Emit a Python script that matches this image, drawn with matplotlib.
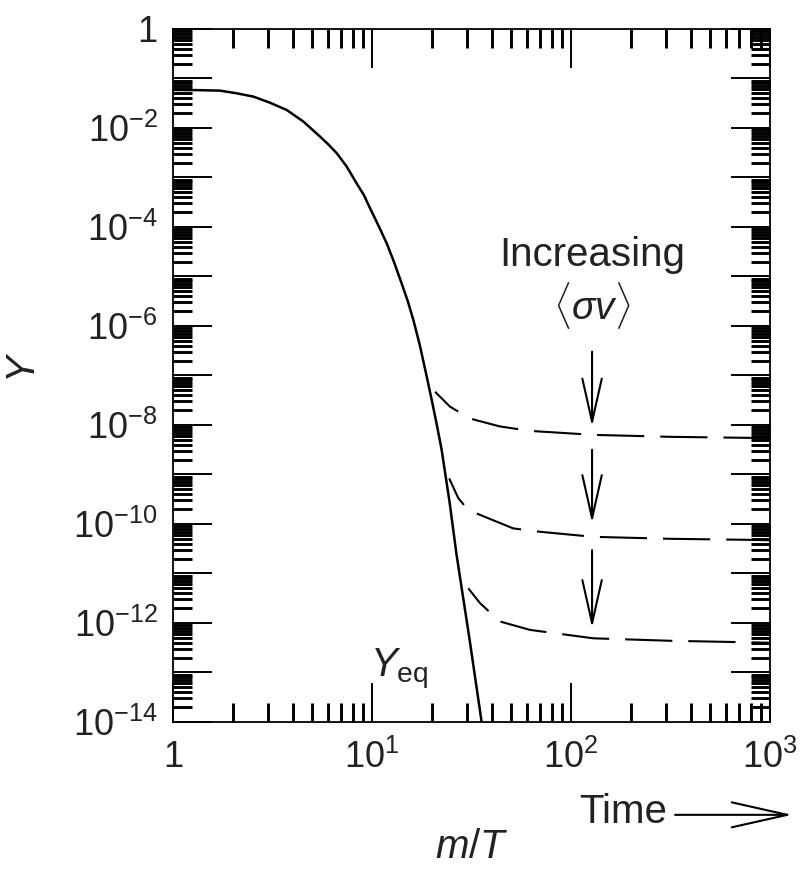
import numpy as np
import matplotlib
matplotlib.use("Agg")
import matplotlib.pyplot as plt
from matplotlib.ticker import LogLocator, FuncFormatter, NullFormatter

# ==========================================
# DATA (log10 of m/T and of Y)
# ==========================================
# equilibrium abundance Y_eq
eq_logx = [0.0, 0.12, 0.236, 0.320, 0.404, 0.487, 0.571, 0.655, 0.739, 0.78, 0.823,
           0.873, 0.923, 0.96, 0.99, 1.03, 1.074, 1.11, 1.149, 1.18, 1.208, 1.24,
           1.275, 1.30, 1.325, 1.35, 1.39, 1.425, 1.49, 1.551]
eq_logy = [-1.232, -1.236, -1.246, -1.30, -1.367, -1.49, -1.636, -1.87, -2.175, -2.33,
           -2.51, -2.78, -3.12, -3.36, -3.62, -3.95, -4.33, -4.70, -5.14, -5.50,
           -5.88, -6.38, -7.02, -7.49, -7.98, -8.5, -9.56, -10.62, -12.32, -14.0]

# freeze-out curves, one per <sigma v>
fo1_logx = [1.317, 1.392, 1.492, 1.643, 1.794, 2.112, 2.5, 2.883, 3.0]
fo1_logy = [-7.33, -7.63, -7.87, -8.03, -8.12, -8.20, -8.24, -8.26, -8.27]

fo2_logx = [1.388, 1.434, 1.484, 1.710, 1.85, 2.112, 2.5, 2.883, 3.0]
fo2_logy = [-9.08, -9.48, -9.72, -10.09, -10.16, -10.26, -10.30, -10.32, -10.33]

fo3_logx = [1.484, 1.543, 1.643, 1.794, 2.112, 2.5, 2.883, 3.0]
fo3_logy = [-11.30, -11.60, -11.97, -12.14, -12.31, -12.36, -12.39, -12.40]

# vertical arrows: x position, start and tip (log10 Y)
arrow_logx = 2.106
arrow_start_logy = [-6.52, -8.50, -10.53]
arrow_tip_logy = [-8.03, -9.98, -12.10]

TEXT_COLOR = '#222222'

# ==========================================
# STYLE
# ==========================================
plt.rcParams['font.family'] = ['Liberation Sans', 'DejaVu Sans']
plt.rcParams['mathtext.fontset'] = 'custom'
plt.rcParams['mathtext.rm'] = 'Liberation Sans'
plt.rcParams['mathtext.it'] = 'Liberation Sans:italic'
plt.rcParams['mathtext.bf'] = 'Liberation Sans:bold'
plt.rcParams['lines.scale_dashes'] = False


def pow10(vals):
    return 10.0 ** np.asarray(vals)


def x_label(v, pos):
    e = int(round(np.log10(v)))
    return r'$1$' if e == 0 else r'$10^{%d}$' % e


def y_label(v, pos):
    e = int(round(np.log10(v)))
    if e % 2:
        return ''
    return r'$1$' if e == 0 else r'$10^{%d}$' % e


fig = plt.figure(figsize=(8.06, 8.69), dpi=100)
ax = fig.add_axes([0.2146, 0.1692, 0.7407, 0.7975])

ax.plot(pow10(eq_logx), pow10(eq_logy), color='black', lw=1.8,
        solid_capstyle='butt', solid_joinstyle='round')
for lx, ly in [(fo1_logx, fo1_logy), (fo2_logx, fo2_logy), (fo3_logx, fo3_logy)]:
    ax.plot(pow10(lx), pow10(ly), color='black', lw=1.5,
            linestyle=(12, (34, 11.5)), dash_capstyle='butt')

ax.set_xscale('log')
ax.set_yscale('log')
ax.set_xlim(1, 1e3)
ax.set_ylim(1e-14, 1)

ax.xaxis.set_major_locator(LogLocator(base=10, numticks=10))
ax.xaxis.set_minor_locator(LogLocator(base=10, subs=np.arange(2, 10), numticks=50))
ax.yaxis.set_major_locator(LogLocator(base=10, numticks=30))
ax.yaxis.set_minor_locator(LogLocator(base=10, subs=np.arange(2, 10), numticks=200))
ax.xaxis.set_major_formatter(FuncFormatter(x_label))
ax.yaxis.set_major_formatter(FuncFormatter(y_label))
ax.xaxis.set_minor_formatter(NullFormatter())
ax.yaxis.set_minor_formatter(NullFormatter())

ax.tick_params(which='both', direction='in', top=True, right=True, colors='black',
               labelcolor=TEXT_COLOR, labelsize=26)
ax.tick_params(which='major', length=28, width=1.4)
ax.tick_params(which='minor', length=14, width=2.1)
ax.tick_params(axis='x', which='major', pad=13)
ax.tick_params(axis='y', which='major', pad=11)
for sp in ax.spines.values():
    sp.set_linewidth(1.3)

ax.set_xlabel(r'$m/T$', fontsize=29, color=TEXT_COLOR)
ax.xaxis.set_label_coords(0.501, -0.153)
ax.set_ylabel(r'$Y$', fontsize=29, color=TEXT_COLOR)
ax.yaxis.set_label_coords(-0.218, 0.511)

# annotations
ax.text(10 ** arrow_logx, 10 ** -4.57, 'Increasing', fontsize=29, color=TEXT_COLOR,
        ha='center', va='center')
ax.text(10 ** arrow_logx, 10 ** -5.58, r'$\langle\sigma v\rangle$', fontsize=28,
        color=TEXT_COLOR, ha='center', va='center')
for s, t in zip(arrow_start_logy, arrow_tip_logy):
    ax.annotate('', xy=(10 ** arrow_logx, 10 ** t), xytext=(10 ** arrow_logx, 10 ** s),
                arrowprops=dict(arrowstyle='->,head_length=31,head_width=7',
                                mutation_scale=1, lw=1.5, color='black',
                                shrinkA=0, shrinkB=0))

ax.text(9.8, 10 ** -13.07, r'$Y_{\rm eq}$', fontsize=29, color=TEXT_COLOR,
        ha='left', va='baseline')

ax.text(0.827, -0.130, 'Time', transform=ax.transAxes, fontsize=29, color=TEXT_COLOR,
        ha='right', va='center')
ax.annotate('', xy=(1.037, -0.134), xytext=(0.841, -0.134),
            xycoords='axes fraction', textcoords='axes fraction',
            arrowprops=dict(arrowstyle='->,head_length=40,head_width=9',
                            mutation_scale=1, lw=1.5, color='black',
                            shrinkA=0, shrinkB=0), annotation_clip=False)

fig.savefig('out.png', dpi=100)
